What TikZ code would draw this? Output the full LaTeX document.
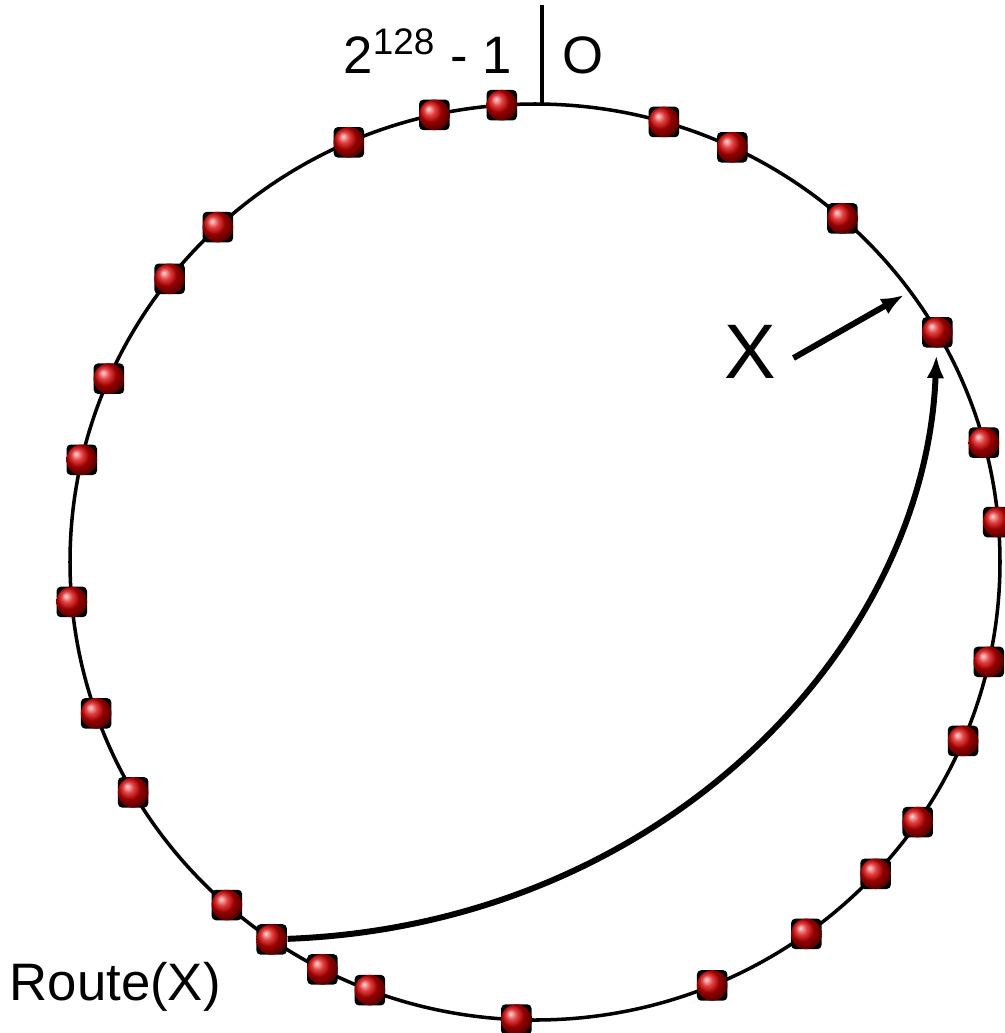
\documentclass[tikz,border=0pt]{standalone}
\usepackage{fontspec}
\setmainfont{Liberation Sans}
\usetikzlibrary{arrows.meta,positioning,calc}

\begin{document}
\begin{tikzpicture}[>={Latex[length=6.5pt,width=5pt]},
  ring/.style={line width=1pt},
  peer/.style={rectangle,fill=black,rounded corners=1.2pt,minimum size=3.05mm,inner sep=0pt,
    path picture={\shade[ball color=red!85!black] (path picture bounding box.center) circle (1.53mm);}},
  lbl/.style={font=\fontsize{15}{18}\selectfont,inner sep=0pt},
  link/.style={->,line width=1.7pt}]
  \useasboundingbox (0,0) rectangle (10.05,-10.33);
  \coordinate (c) at (5.35,-5.62);
  \draw[ring] (c) ellipse [x radius=4.65, y radius=4.58];
  \coordinate (tick) at (5.42,-0.05);
  \coordinate (zero) at (5.42,-1.03);
  \draw[ring] (tick) -- (zero);
  \node[lbl,anchor=base east] (maxid) at (5.13,-0.73) {2\textsuperscript{128} - 1};
  \node[lbl,anchor=base west] (minid) at (5.62,-0.73) {O};
  % peers on the ring
  \foreach \a [count=\i] in {94.1,102.5,113.6,133.0,141.8,156.4,167.1,185.0,199.3,210.2,
      228.5,235.5,242.8,249.2,267.7,292.4,305.7,317.1,325.4,337.0,347.4,5.0,15.1,30.1,48.6,64.9,73.9}
    \node[peer] (n\i) at ($(c)+(\a:4.65 and 4.58)$) {};
  \node[lbl,font=\fontsize{22}{26}\selectfont,anchor=base] (x) at (7.50,-3.78) {X};
  \coordinate (xtip) at (9.04,-2.95);
  \draw[link] ($(x.base east)+(0.17,0.20)$) -- (xtip);
  \node[lbl,anchor=base west] (route) at (0.09,-10.0) {Route(X)};
  \draw[link,shorten >=2pt] (n12) .. controls (6.60,-9.25) and (9.25,-6.50) .. (n24);
\end{tikzpicture}
\end{document}
